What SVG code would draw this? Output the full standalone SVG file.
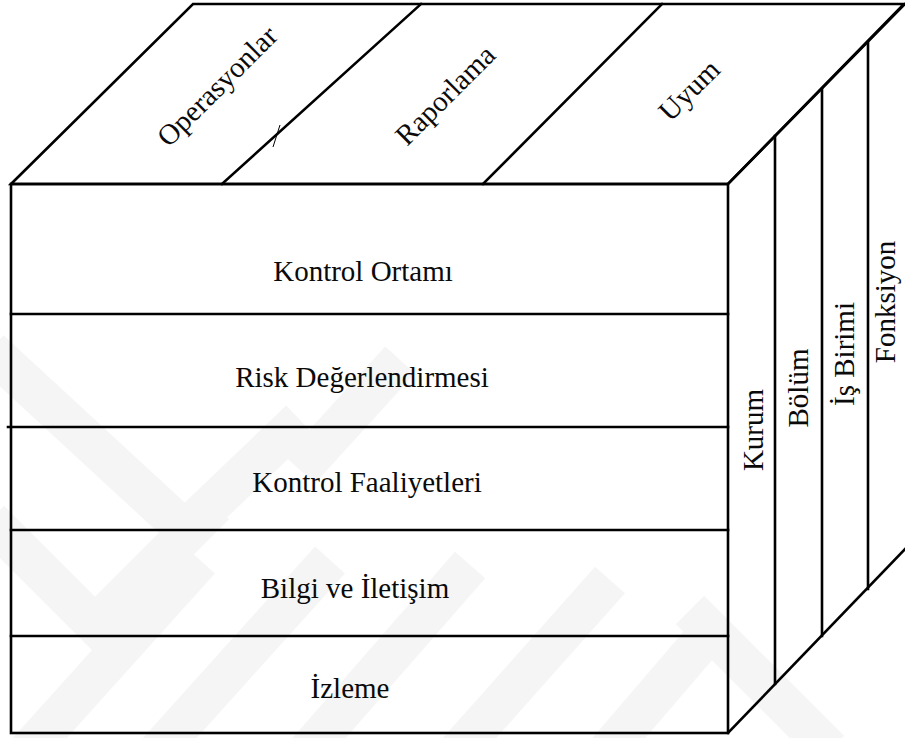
<svg xmlns="http://www.w3.org/2000/svg" width="905" height="738" viewBox="0 0 905 738">
  <style>
    .edge { stroke: #000; stroke-width: 2.6; fill: none; stroke-linecap: square; }
    .lbl { font-family: "Liberation Serif", "Times New Roman", serif; font-size: 29px; fill: #0a0a0a; text-anchor: middle; }
    .wm { stroke: #f5f5f5; stroke-width: 40; fill: none; stroke-linecap: butt; }
  </style>

  <rect x="0" y="0" width="905" height="738" fill="#fff"/>

  <!-- faint background watermark bands -->
  <g id="watermark">
    <path class="wm" d="M-10,350 L185,530 L300,420"/>
    <path class="wm" d="M-10,520 L95,625 L215,505"/>
    <path class="wm" d="M20,760 L200,560"/>
    <path class="wm" d="M150,760 L330,560"/>
    <path class="wm" d="M300,760 L470,565"/>
    <path class="wm" d="M450,760 L610,580"/>
    <path class="wm" d="M600,760 L720,620"/>
    <path class="wm" d="M300,470 L400,360"/>
    <path class="wm" d="M690,610 L830,750"/>
  </g>

  <!-- cube outline and dividing edges -->
  <g id="connectors">
    <polygon class="edge" points="11,184 193,4 904,4 728,184"/>
    <rect class="edge" x="11" y="184" width="717" height="549"/>
    <line class="edge" x1="222" y1="184" x2="421" y2="4"/>
    <line class="edge" x1="483" y1="184" x2="662" y2="4"/>
    <line x1="280" y1="125" x2="273" y2="147" stroke="#000" stroke-width="1"/>
    <line class="edge" x1="728" y1="184" x2="905" y2="4"/>
    <line class="edge" x1="728" y1="733" x2="905" y2="549"/>
    <line class="edge" x1="11" y1="314" x2="728" y2="314"/>
    <line class="edge" x1="8" y1="427" x2="728" y2="427"/>
    <line class="edge" x1="11" y1="530" x2="728" y2="530"/>
    <line class="edge" x1="11" y1="636" x2="728" y2="636"/>
    <line class="edge" x1="775" y1="136" x2="775" y2="684"/>
    <line class="edge" x1="822" y1="89" x2="822" y2="636"/>
    <line class="edge" x1="868" y1="42" x2="868" y2="589"/>
  </g>

  <!-- objectives on the top face -->
  <g id="operasyonlar"><text class="lbl" transform="translate(224,93) rotate(-45)">Operasyonlar</text></g>
  <g id="raporlama"><text class="lbl" transform="translate(452,102) rotate(-45)">Raporlama</text></g>
  <g id="uyum"><text class="lbl" transform="translate(696,97) rotate(-45)">Uyum</text></g>

  <!-- components on the front face -->
  <g id="kontrol-ortami"><text class="lbl" x="363" y="281">Kontrol Ortamı</text></g>
  <g id="risk-degerlendirmesi"><text class="lbl" x="362" y="387">Risk Değerlendirmesi</text></g>
  <g id="kontrol-faaliyetleri"><text class="lbl" x="367" y="492">Kontrol Faaliyetleri</text></g>
  <g id="bilgi-iletisim"><text class="lbl" x="355" y="598">Bilgi ve İletişim</text></g>
  <g id="izleme"><text class="lbl" x="350" y="698">İzleme</text></g>

  <!-- organisational units on the side face -->
  <g id="kurum"><text class="lbl" transform="translate(763,430) rotate(-90)">Kurum</text></g>
  <g id="bolum"><text class="lbl" transform="translate(808,388) rotate(-90)">Bölüm</text></g>
  <g id="is-birimi"><text class="lbl" transform="translate(854,354) rotate(-90)">İş Birimi</text></g>
  <g id="fonksiyon"><text class="lbl" transform="translate(895,302) rotate(-90)">Fonksiyon</text></g>
</svg>
